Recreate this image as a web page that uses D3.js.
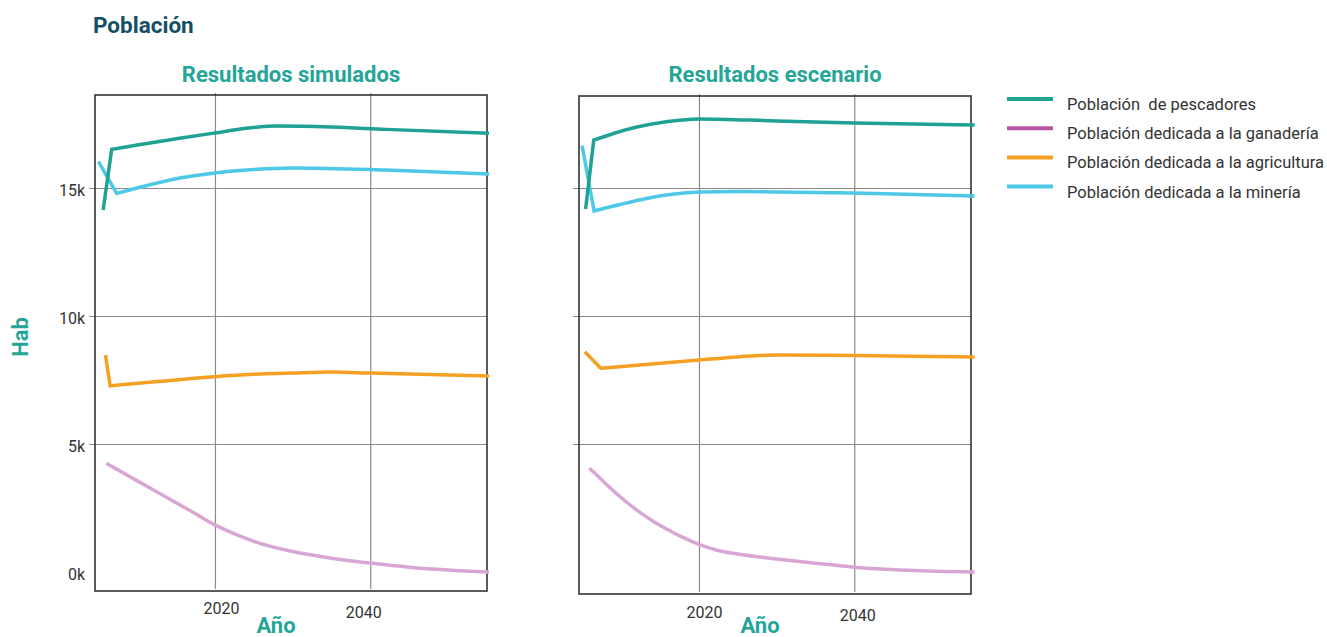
<!DOCTYPE html>
<html>
<head>
<meta charset="utf-8">
<script src="https://cdn.jsdelivr.net/npm/d3@7"></script>
<style>
  html, body { margin: 0; padding: 0; background: #fff; }
  svg { display: block; font-family: Roboto, "Noto Sans", sans-serif; }
</style>
</head>
<body>
<svg id="chart" width="1327" height="637"></svg>
<script>
// ---------- DATA ----------
const seriesNames = [
  "Población  de pescadores",
  "Población dedicada a la ganadería",
  "Población dedicada a la agricultura",
  "Población dedicada a la minería"
];
const panelTitles = ["Resultados simulados", "Resultados escenario"];
const xTickValues = [2020, 2040];
const yTickValues = [0, 5000, 10000, 15000];
const yTickLabels = ["0k", "5k", "10k", "15k"];

// [year, habitants]
const simPescadores  = [[2005.6,14140],[2006.7,16510],[2010,16680],[2015,16920],[2020,17150],[2024,17330],[2028,17420],[2035,17380],[2042,17290],[2055.3,17140]];
const simGanaderia   = [[2006,4250],[2010,3560],[2013,3050],[2017,2360],[2020,1840],[2023,1430],[2025,1200],[2030,800],[2035,540],[2040,350],[2045,190],[2050,80],[2055.3,0]];
const simAgricultura = [[2005.9,8480],[2006.5,7270],[2013,7450],[2020,7630],[2025,7720],[2030,7770],[2035,7810],[2040,7770],[2055.3,7660]];
const simMineria     = [[2005.0,16030],[2007.35,14790],[2011,15080],[2015.5,15390],[2020,15590],[2025,15720],[2030,15780],[2042,15700],[2055.3,15550]];

const escPescadores  = [[2005.4,14180],[2006.45,16870],[2009,17130],[2012,17380],[2016,17600],[2020,17700],[2030,17620],[2040,17540],[2055.5,17460]];
const escGanaderia   = [[2005.9,4050],[2008,3450],[2010,2900],[2012,2420],[2014,2000],[2016,1650],[2018,1340],[2020,1080],[2022,880],[2025,700],[2030,510],[2035,340],[2040,190],[2047,70],[2055.5,0]];
const escAgricultura = [[2005.3,8600],[2007.35,7960],[2020,8280],[2025,8400],[2030,8480],[2040,8460],[2055.5,8400]];
const escMineria     = [[2004.95,16650],[2006.5,14100],[2020,14840],[2025,14860],[2040,14800],[2055.5,14690]];

// ---------- STYLE / LAYOUT ----------
const lineColors   = ["#1fa194", "#d8a6d3", "#f5a022", "#4dc8e6"];
const legendColors = ["#1fa194", "#b556a9", "#f5a022", "#4dc8e6"];
const teal = "#24a597";
// series whose first segment is a sharp jump (drawn straight, then smoothed)
const sharpStart = [true, false, true, true];
const panels = [
  { left: 95,  right: 487, top: 95,  bottom: 591, showY: true,
    series: [simPescadores, simGanaderia, simAgricultura, simMineria],
    tickShift: [[6, 0], [-7, 4]] },
  { left: 579, right: 971, top: 96, bottom: 594, showY: false,
    series: [escPescadores, escGanaderia, escAgricultura, escMineria],
    tickShift: [[5, 1], [3, 4]] }
];
const xDomain = [2004.55, 2055];

const svg = d3.select("#chart");

svg.append("text")
  .attr("x", 93).attr("y", 33)
  .attr("font-size", 22.5).attr("font-weight", 700)
  .attr("fill", "#154f66")
  .text("Población");

panels.forEach((p, pi) => {
  const x = d3.scaleLinear().domain(xDomain).range([p.left, 486.7 - 95 + p.left]);
  const y = d3.scaleLinear().domain([0, 15000]).range([572, 188]);
  const g = svg.append("g");

  // horizontal grid + outward ticks
  const yAxis = d3.axisLeft(y).tickValues(yTickValues)
    .tickSize(-(p.right - p.left) - 6).tickPadding(4)
    .tickFormat((d, i) => p.showY ? yTickLabels[i] : "");
  const ya = g.append("g").attr("transform", `translate(${p.left},0)`).call(yAxis);
  ya.select(".domain").remove();
  ya.selectAll(".tick line")
    .attr("x1", -6).attr("x2", p.right - p.left)
    .attr("stroke", "#8a8a8a").attr("stroke-width", 1.2);
  ya.selectAll(".tick").filter(d => d === 0).select("line").remove();
  ya.selectAll(".tick text").attr("x", -10).attr("dy", "0.45em")
    .attr("font-size", 16).attr("fill", "#333").attr("font-family", "Roboto");

  // vertical grid
  const xAxis = d3.axisBottom(x).tickValues(xTickValues).tickFormat(d3.format("d"))
    .tickSize(0).tickPadding(0);
  const xa = g.append("g").attr("transform", `translate(0,${p.bottom})`).call(xAxis);
  xa.select(".domain").remove();
  xa.selectAll(".tick line")
    .attr("y1", -2).attr("y2", -(p.bottom - p.top) - 2)
    .attr("stroke", "#8a8a8a").attr("stroke-width", 1.2);
  xa.selectAll(".tick text")
    .attr("font-size", 16).attr("fill", "#333").attr("font-family", "Roboto")
    .attr("dy", 0)
    .attr("y", (d, i) => 23 + p.tickShift[i][1])
    .attr("x", (d, i) => p.tickShift[i][0]);

  // frame
  g.append("rect")
    .attr("x", p.left).attr("y", p.top)
    .attr("width", p.right - p.left).attr("height", p.bottom - p.top)
    .attr("fill", "none").attr("stroke", "#333").attr("stroke-width", 1.6);

  // lines
  const smooth = d3.line().x(d => x(d[0])).y(d => y(d[1])).curve(d3.curveMonotoneX);
  const pathFor = (data, sharp) => {
    if (!sharp) return smooth(data);
    const rest = smooth(data.slice(1));
    return `M${x(data[0][0])},${y(data[0][1])}L` + rest.slice(1);
  };
  const order = [1, 2, 3, 0];
  order.forEach(si => {
    g.append("path")
      .attr("d", pathFor(p.series[si], sharpStart[si]))
      .attr("fill", "none")
      .attr("stroke", lineColors[si])
      .attr("stroke-width", 3.5)
      .attr("stroke-linejoin", "miter")
      .attr("stroke-miterlimit", 10);
  });

  // titles
  const cx = (p.left + p.right) / 2;
  svg.append("text")
    .attr("x", cx).attr("y", 82)
    .attr("text-anchor", "middle")
    .attr("font-size", 22).attr("font-weight", 700).attr("fill", teal)
    .text(panelTitles[pi]);
  svg.append("text")
    .attr("x", cx - 15).attr("y", 633)
    .attr("text-anchor", "middle")
    .attr("font-size", 22).attr("font-weight", 700).attr("fill", teal)
    .text("Año");
});

// y label
svg.append("text")
  .attr("transform", "translate(28,337) rotate(-90)")
  .attr("text-anchor", "middle")
  .attr("font-size", 22).attr("font-weight", 700).attr("fill", teal)
  .text("Hab");

// legend
const legend = svg.append("g").attr("transform", "translate(1007,99)");
seriesNames.forEach((name, i) => {
  const row = legend.append("g").attr("transform", `translate(0,${i * 29.2})`);
  row.append("line").attr("x1", 0).attr("x2", 46).attr("y1", 0).attr("y2", 0)
    .attr("stroke", legendColors[i]).attr("stroke-width", 4);
  row.append("text").attr("x", 60).attr("y", 11)
    .attr("font-size", 16.5).attr("fill", "#333")
    .style("white-space", "pre")
    .text(name);
});
</script>
</body>
</html>
